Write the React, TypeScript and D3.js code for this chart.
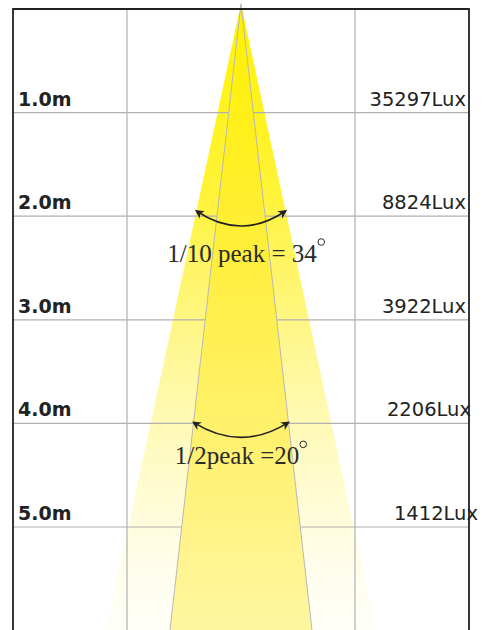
import * as d3 from "d3";
import {useRef, useEffect} from "react";

// distances (m) and illuminance at each one
const distances = ["1.0m", "2.0m", "3.0m", "4.0m", "5.0m"];
const distanceValues = [1, 2, 3, 4, 5];
const luxValues = ["35297Lux", "8824Lux", "3922Lux", "2206Lux", "1412Lux"];
const luxNudge = [0, 0, 0, 5, 12];

// beam cones: half-width (grid units) per metre from the apex
const beamNames = ["1/10 peak", "1/2peak"];
const beamAngles = [34, 20];
const beamSpread = [0.1957, 0.103];
const beamLabelDepth = [1.95, 3.99];

const W = 483;
const H = 630;

const App = () => {
    const ref = useRef<SVGSVGElement>(null);

    useEffect(() => {
        const svg = d3.select(ref.current);
        svg.selectAll("*").remove();

        const y = d3.scaleLinear().domain([0, 6]).range([9, 630.6]);
        const x = d3.scaleLinear().domain([-2, 2]).range([13, 469]);
        const apex = -0.05;
        const bottom = 6.1;

        const defs = svg.append("defs");
        const outerGrad = defs.append("linearGradient")
            .attr("id", "outerGrad")
            .attr("gradientUnits", "userSpaceOnUse")
            .attr("x1", 0).attr("x2", 0)
            .attr("y1", y(apex)).attr("y2", y(6));
        [[0, "#fff200", 1], [0.3, "#fff226", 0.92], [0.5, "#fff24a", 0.7], [0.75, "#fff68a", 0.45], [1, "#fffbd0", 0.15]]
            .forEach(([o, c, op]) => outerGrad.append("stop").attr("offset", o as number).attr("stop-color", c as string).attr("stop-opacity", op as number));
        const innerGrad = defs.append("linearGradient")
            .attr("id", "innerGrad")
            .attr("gradientUnits", "userSpaceOnUse")
            .attr("x1", 0).attr("x2", 0)
            .attr("y1", y(apex)).attr("y2", y(6));
        [[0, "#fff200"], [0.3, "#ffee2a"], [0.6, "#fff060"], [0.85, "#fff388"], [1, "#fff6a2"]]
            .forEach(([o, c]) => innerGrad.append("stop").attr("offset", o as number).attr("stop-color", c as string));

        defs.append("marker")
            .attr("id", "arrow")
            .attr("viewBox", "0 0 10 10")
            .attr("refX", 8).attr("refY", 5)
            .attr("markerWidth", 9).attr("markerHeight", 9)
            .attr("markerUnits", "userSpaceOnUse")
            .attr("orient", "auto-start-reverse")
            .append("path")
            .attr("d", "M0,0 L10,5 L0,10 L3,5 Z")
            .attr("fill", "#222");

        const cone = (spread: number) => {
            const d = bottom - apex;
            return [
                [x(0), y(apex)],
                [x(-spread * d), y(bottom)],
                [x(spread * d), y(bottom)],
            ];
        };
        const line = d3.line();

        // outer (1/10 peak) cone
        svg.append("path")
            .attr("d", line(cone(beamSpread[0]) as [number, number][]) + "Z")
            .attr("fill", "url(#outerGrad)");

        // grid
        const grid = svg.append("g").attr("stroke", "#b0b0b0").attr("stroke-width", 1.2);
        grid.selectAll("line.h")
            .data(distanceValues)
            .join("line")
            .attr("class", "h")
            .attr("x1", x(-2)).attr("x2", x(2))
            .attr("y1", d => y(d)).attr("y2", d => y(d));
        grid.selectAll("line.v")
            .data([-1, 1])
            .join("line")
            .attr("class", "v")
            .attr("x1", d => x(d)).attr("x2", d => x(d))
            .attr("y1", y(0)).attr("y2", H);

        // inner (1/2 peak) cone
        svg.append("path")
            .attr("d", line(cone(beamSpread[1]) as [number, number][]) + "Z")
            .attr("fill", "url(#innerGrad)");
        const edges = svg.append("g").attr("stroke", "#b8b8b8").attr("stroke-width", 1);
        [-1, 1].forEach(s => {
            edges.append("line")
                .attr("x1", x(0)).attr("y1", y(apex))
                .attr("x2", x(s * beamSpread[1] * (bottom - apex))).attr("y2", y(bottom));
        });

        // frame
        svg.append("path")
            .attr("d", `M${x(-2)},${H}V${y(0)}H${x(2)}V${H}`)
            .attr("fill", "none")
            .attr("stroke", "#222")
            .attr("stroke-width", 1.8);

        // distance labels
        svg.append("g")
            .attr("font-family", "DejaVu Sans, Verdana, sans-serif")
            .attr("font-weight", "bold")
            .attr("font-size", 19)
            .attr("fill", "#222")
            .selectAll("text")
            .data(distances)
            .join("text")
            .attr("x", x(-2) + 5)
            .attr("y", (d, i) => y(distanceValues[i]) - 7)
            .text(d => d);

        // lux labels
        svg.append("g")
            .attr("font-family", "DejaVu Sans, Verdana, sans-serif")
            .attr("font-size", 19.5)
            .attr("fill", "#222")
            .attr("text-anchor", "end")
            .selectAll("text")
            .data(luxValues)
            .join("text")
            .attr("x", (d, i) => x(2) - 3 + luxNudge[i])
            .attr("y", (d, i) => y(distanceValues[i]) - 7)
            .text(d => d);

        // beam angle annotations
        beamNames.forEach((name, i) => {
            const dd = beamLabelDepth[i];
            const hw = beamSpread[i] * (dd - apex);
            const x1 = x(-hw), x2 = x(hw), yy = y(dd);
            const sag = 15;
            svg.append("path")
                .attr("d", `M${x1},${yy}Q${(x1 + x2) / 2},${yy + 2 * sag} ${x2},${yy}`)
                .attr("fill", "none")
                .attr("stroke", "#222")
                .attr("stroke-width", 1.6)
                .attr("marker-start", "url(#arrow)")
                .attr("marker-end", "url(#arrow)");
            const label = i === 0 ? `${name} = ${beamAngles[i]}` : `${name} =${beamAngles[i]}`;
            const t = svg.append("text")
                .attr("x", x(0) + (i === 0 ? 1 : -4))
                .attr("y", yy + (i === 0 ? 51 : 42))
                .attr("text-anchor", "middle")
                .attr("font-family", "Liberation Serif, Times New Roman, serif")
                .attr("font-size", 25)
                .attr("fill", "#2a2a2a")
                .text(label);
            const bb = (t.node() as SVGTextElement).getBBox();
            svg.append("circle")
                .attr("cx", bb.x + bb.width + 4)
                .attr("cy", bb.y + 2)
                .attr("r", 3.3)
                .attr("fill", "none")
                .attr("stroke", "#2a2a2a")
                .attr("stroke-width", 1);
        });
    }, []);

    return (
        <svg ref={ref} width={W} height={H}
             style={{position: "absolute", left: 0, top: 0, background: "#fff"}}/>
    );
};

export default App;
